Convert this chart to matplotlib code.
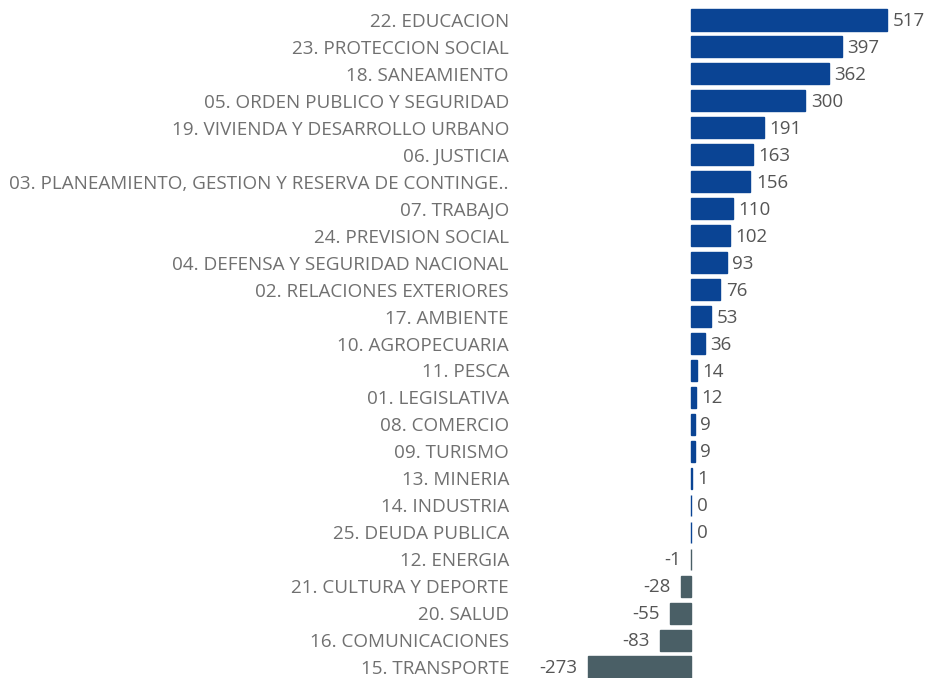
import matplotlib
matplotlib.use('Agg')
import matplotlib.pyplot as plt

categorias = [
    '22. EDUCACION',
    '23. PROTECCION SOCIAL',
    '18. SANEAMIENTO',
    '05. ORDEN PUBLICO Y SEGURIDAD',
    '19. VIVIENDA Y DESARROLLO URBANO',
    '06. JUSTICIA',
    '03. PLANEAMIENTO, GESTION Y RESERVA DE CONTINGE..',
    '07. TRABAJO',
    '24. PREVISION SOCIAL',
    '04. DEFENSA Y SEGURIDAD NACIONAL',
    '02. RELACIONES EXTERIORES',
    '17. AMBIENTE',
    '10. AGROPECUARIA',
    '11. PESCA',
    '01. LEGISLATIVA',
    '08. COMERCIO',
    '09. TURISMO',
    '13. MINERIA',
    '14. INDUSTRIA',
    '25. DEUDA PUBLICA',
    '12. ENERGIA',
    '21. CULTURA Y DEPORTE',
    '20. SALUD',
    '16. COMUNICACIONES',
    '15. TRANSPORTE',
]
valores = [517, 397, 362, 300, 191, 163, 156, 110, 102, 93, 76, 53, 36, 14, 12,
           9, 9, 1, 0, 0, -1, -28, -55, -83, -273]

azul = '#0a4494'
gris = '#4a5f66'

plt.rcParams['font.family'] = ['Open Sans', 'DejaVu Sans']

fig = plt.figure(figsize=(9.25, 6.78), dpi=100)
ax = fig.add_axes([520 / 925, 0, 405 / 925, 1])

y = list(range(len(categorias)))
colores = [azul if v >= 0 else gris for v in valores]
ax.barh(y, valores, height=0.78, color=colores, edgecolor=colores, linewidth=1.0)

# etiquetas de valor al final de cada barra
for yi, v in zip(y, valores):
    if v >= 0:
        ax.text(v + 15, yi + 0.04, str(v), va='center', ha='left', fontsize=13.5, color='#555555')
    else:
        ax.text(v - 27, yi + 0.04, str(v), va='center', ha='right', fontsize=13.5, color='#555555')

ax.set_xlim(-452, 616.5)
ax.set_ylim(24.408, -0.742)
ax.set_yticks(y)
ax.set_yticklabels(categorias, fontsize=13.6, color='#707070')
ax.tick_params(axis='y', length=0, pad=8)
ax.set_xticks([])
for s in ax.spines.values():
    s.set_visible(False)
ax.patch.set_alpha(0)

fig.savefig('out.png', dpi=100)
